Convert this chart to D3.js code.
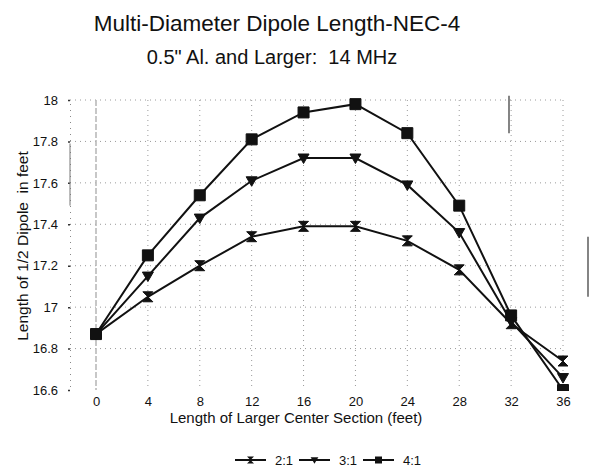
<!DOCTYPE html>
<html>
<head>
<meta charset="utf-8">
<script src="https://cdn.jsdelivr.net/npm/d3@7"></script>
<style>
  html, body { margin: 0; padding: 0; background: #fff; }
  svg { display: block; font-family: "Liberation Sans", Arial, sans-serif; }
  .pre { white-space: pre; }
</style>
</head>
<body>
<svg id="chart" width="592" height="469"></svg>
<script>
// Length of larger center section (feet)
const sectionLengths = [0, 4, 8, 12, 16, 20, 24, 28, 32, 36];
// Half-dipole length (feet) for each diameter ratio
const ratio2to1 = [16.87, 17.05, 17.20, 17.34, 17.39, 17.39, 17.32, 17.18, 16.92, 16.74];
const ratio3to1 = [16.87, 17.15, 17.43, 17.61, 17.72, 17.72, 17.59, 17.36, 16.93, 16.66];
const ratio4to1 = [16.87, 17.25, 17.54, 17.81, 17.94, 17.98, 17.84, 17.49, 16.96, 16.60];
const seriesNames = ["2:1", "3:1", "4:1"];
const yTicks = [16.6, 16.8, 17, 17.2, 17.4, 17.6, 17.8, 18];

const svg = d3.select("#chart");

const x = d3.scaleLinear().domain([0, 36]).range([96, 563]);
const y = d3.scaleLinear().domain([16.6, 18]).range([390, 100]);

const series = [
  { name: seriesNames[0], values: ratio2to1, shape: "hourglass" },
  { name: seriesNames[1], values: ratio3to1, shape: "down" },
  { name: seriesNames[2], values: ratio4to1, shape: "square" }
];

// Titles
svg.append("text").attr("x", 277).attr("y", 31).attr("text-anchor", "middle")
  .attr("font-size", 22.5).attr("fill", "#111").text("Multi-Diameter Dipole Length-NEC-4");
svg.append("text").attr("class", "pre").attr("x", 272).attr("y", 64).attr("text-anchor", "middle")
  .attr("font-size", 20).attr("fill", "#111").text("0.5\" Al. and Larger:  14 MHz");

// Dotted grid
const grid = svg.append("g").attr("stroke", "#9a9a9a").attr("stroke-width", 1)
  .attr("stroke-dasharray", "1,4");
grid.selectAll("line.v").data(sectionLengths.slice(1)).join("line")
  .attr("x1", d => x(d)).attr("x2", d => x(d))
  .attr("y1", y(18)).attr("y2", y(16.6));
grid.selectAll("line.h").data(yTicks.slice(1)).join("line")
  .attr("x1", 70).attr("x2", x(36))
  .attr("y1", d => y(d)).attr("y2", d => y(d));
// Zero-length reference line
svg.append("line").attr("x1", x(0)).attr("x2", x(0)).attr("y1", y(18)).attr("y2", y(16.6))
  .attr("stroke", "#b5b5b5").attr("stroke-width", 1.5).attr("stroke-dasharray", "6,2");

// Y axis
const yAxis = d3.axisLeft(y).tickValues(yTicks).tickSize(2).tickPadding(10)
  .tickFormat(d3.format("~g"));
const gy = svg.append("g").attr("transform", "translate(70,0)").call(yAxis);
gy.select(".domain").attr("stroke", "#888").attr("stroke-dasharray", "1,5");
gy.selectAll(".tick line").attr("stroke", "#333").attr("stroke-width", 1.5);
gy.selectAll(".tick text").attr("font-size", 13).attr("fill", "#111")
  .attr("font-family", "Liberation Sans, Arial, sans-serif");
// Solid segment of the axis between 17.8 and 17.5
svg.append("line").attr("x1", 70).attr("x2", 70).attr("y1", y(17.79)).attr("y2", y(17.49))
  .attr("stroke", "#777").attr("stroke-width", 1);

// X axis labels
const xAxis = d3.axisBottom(x).tickValues(sectionLengths).tickSize(0).tickPadding(7);
const gx = svg.append("g").attr("transform", `translate(0,${y(16.6)})`).call(xAxis);
gx.select(".domain").remove();
gx.selectAll(".tick text").attr("font-size", 13).attr("fill", "#111")
  .attr("font-family", "Liberation Sans, Arial, sans-serif");

// Axis titles
svg.append("text").attr("x", 296).attr("y", 423).attr("text-anchor", "middle")
  .attr("font-size", 15).attr("fill", "#111").text("Length of Larger Center Section (feet)");
svg.append("text").attr("class", "pre").attr("transform", "translate(28,246) rotate(-90)")
  .attr("text-anchor", "middle").attr("font-size", 15.5).attr("fill", "#111")
  .text("Length of 1/2 Dipole  in feet");

// Short dark marks along the right side of the frame
const marks = svg.append("g").attr("stroke", "#333").attr("stroke-width", 1.2);
marks.append("line").attr("x1", 509).attr("x2", 509).attr("y1", y(18.02)).attr("y2", y(17.84));
marks.append("line").attr("x1", 588).attr("x2", 588).attr("y1", y(17.34)).attr("y2", y(17.05));

// Marker shapes
function markerPath(shape, s) {
  if (shape === "square") return `M${-s},${-s}H${s}V${s}H${-s}Z`;
  if (shape === "down") return `M${-s * 1.1},${-s * 0.8}H${s * 1.1}L0,${s * 1.1}Z`;
  return `M${-s},${-s}H${s}L${-s},${s}H${s}Z`;
}

svg.append("clipPath").attr("id", "plotClip")
  .append("rect").attr("x", 60).attr("y", 90).attr("width", 520).attr("height", y(16.6) + 1 - 90);

const line = d3.line().x((d, i) => x(sectionLengths[i])).y(d => y(d));

const plot = svg.append("g").attr("clip-path", "url(#plotClip)");
series.forEach(s => {
  plot.append("path").attr("d", line(s.values)).attr("fill", "none")
    .attr("stroke", "#111").attr("stroke-width", 2);
});
series.forEach(s => {
  plot.selectAll(null).data(s.values).join("path")
    .attr("transform", (d, i) => `translate(${x(sectionLengths[i])},${y(d)})`)
    .attr("d", markerPath(s.shape, s.shape === "square" ? 5.5 : 5))
    .attr("fill", "#111").attr("stroke", "#111").attr("stroke-width", 1);
});

// Legend
const legend = svg.append("g").attr("transform", "translate(235,460)");
const legendX = [0, 64, 128];
series.forEach((s, i) => {
  const g = legend.append("g").attr("transform", `translate(${legendX[i]},0)`);
  g.append("line").attr("x1", 0).attr("x2", 31).attr("y1", 0).attr("y2", 0)
    .attr("stroke", "#111").attr("stroke-width", 2);
  g.append("path").attr("transform", "translate(15.5,0)")
    .attr("d", markerPath(s.shape, 3.5)).attr("fill", "#111");
  g.append("text").attr("x", 40).attr("y", 5).attr("font-size", 13)
    .attr("fill", "#111").text(s.name);
});
</script>
</body>
</html>
